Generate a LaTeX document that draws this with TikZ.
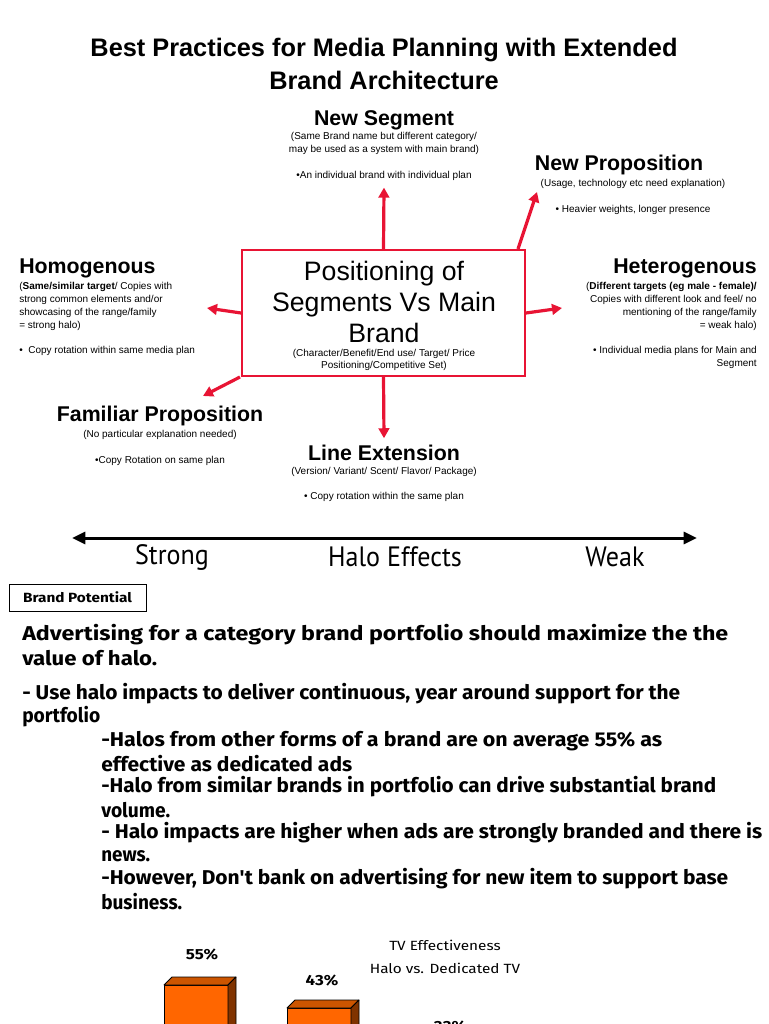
\documentclass[tikz,border=0pt]{standalone}
\usepackage{fontspec}
\setmainfont{Liberation Sans}
\newfontfamily\titlef{Liberation Sans}
\newfontfamily\halof[FakeStretch=0.93]{PT Sans}
\newfontfamily\comicf[FakeStretch=1.15]{Fira Sans}
\usetikzlibrary{arrows.meta,calc}
\definecolor{bred}{RGB}{232,20,52}
\definecolor{barfront}{RGB}{255,102,0}
\definecolor{bartop}{RGB}{204,85,0}
\definecolor{barside}{RGB}{128,51,0}
\newcommand\fitline[2]{\resizebox{#1pt}{\height}{#2}}
\tikzset{
  hd/.style={font=\bfseries\fontsize{16}{18}\selectfont, inner sep=0pt},
  sm/.style={font=\fontsize{7.5}{9.75}\selectfont, inner sep=0pt},
  arr/.style={draw=bred, line width=2.4pt, -{Triangle[length=7.5pt,width=8pt]}},
  para/.style={font=\comicf\bfseries\fontsize{15}{17}\selectfont, inner sep=0pt, anchor=west},
  ttl/.style={font=\titlef\bfseries\fontsize{19}{22}\selectfont, inner sep=0pt},
  halo/.style={font=\halof\fontsize{21}{24}\selectfont, inner sep=0pt},
  chart/.style={font=\comicf\fontsize{10}{12}\selectfont, inner sep=0pt},
  bar/.style={draw=black, line width=0.6pt, line join=round}
}
\begin{document}
\begin{tikzpicture}[x=0.75pt,y=-0.75pt]
\useasboundingbox (0,0) rectangle (768,1024);
% title
\node[ttl] (t1) at (384,50) {Best Practices for Media Planning with Extended};
\node[ttl] (t2) at (384,80) {Brand Architecture};
% central box
\node[draw=bred, line width=1.5pt, minimum width=212.25pt, minimum height=94.5pt, inner sep=0pt] (box) at (383.5,313) {};
\node[font=\fontsize{20}{23.25}\selectfont, align=center, inner sep=0pt] (boxt) at (384,302) {Positioning of\\Segments Vs Main\\Brand};
\node[sm, align=center, font=\fontsize{7.5}{9}\selectfont] (boxs) at (384,360) {(Character/Benefit/End use/ Target/ Price\\Positioning/Competitive Set)};
% New Segment
\node[hd] (ns) at (384,120) {New Segment};
\node[sm, align=center] (nss) at (384,143) {(Same Brand name but different category/\\may be used as a system with main brand)};
\node[sm] (nsb) at (384,176) {•An individual brand with individual plan};
% New Proposition
\node[hd] (np) at (619,165) {New Proposition};
\node[sm] (nps) at (633,184) {(Usage, technology etc need explanation)};
\node[sm] (npb) at (633,210) {• Heavier weights, longer presence};
% Homogenous
\node[hd, anchor=west] (ho) at (19,268) {Homogenous};
\node[sm, anchor=west, align=left] (hos) at (19,306) {(\textbf{Same/similar target}/ Copies with\\strong common elements and/or\\showcasing of the range/family\\= strong halo)};
\node[sm, anchor=west] (hob) at (19,351) {•\ \ Copy rotation within same media plan};
% Heterogenous
\node[hd, anchor=east] (he) at (757,268) {Heterogenous};
\node[sm, anchor=east, align=right] (hes) at (757,306) {(\textbf{Different targets (eg male - female)/}\\Copies with different look and feel/ no\\mentioning of the range/family\ \\= weak halo)};
\node[sm, anchor=east, align=right] (heb) at (757,357.5) {• Individual media plans for Main and\\Segment};
% Familiar Proposition
\node[hd] (fp) at (160,416) {Familiar Proposition};
\node[sm] (fps) at (160,435) {(No particular explanation needed)};
\node[sm] (fpb) at (160,461) {•Copy Rotation on same plan};
% Line Extension
\node[hd] (le) at (384,453) {Line Extension};
\node[sm] (les) at (384,472) {(Version/ Variant/ Scent/ Flavor/ Package)};
\node[sm] (leb) at (384,497) {• Copy rotation within the same plan};
% arrows
\coordinate (npst) at ($(box.north east)+(-8,0)$);
\coordinate (nptip) at (537,192);
\coordinate (hotip) at (207,308);
\coordinate (hetip) at (562,308);
\coordinate (fpst) at (240,377);
\coordinate (fptip) at (203,396);
\draw[arr] (box.north) -- ([yshift=-5pt]nsb.south);
\draw[arr] (npst) -- (nptip);
\draw[arr] (box.west) -- (hotip);
\draw[arr] (box.east) -- (hetip);
\draw[arr] (fpst) -- (fptip);
\draw[arr] (box.south) -- ([yshift=5pt]le.north);
% halo axis
\coordinate (ha) at (72,538);
\coordinate (hb) at (697,538);
\draw[line width=2.25pt, {Triangle[length=10pt,width=9pt]}-{Triangle[length=10pt,width=9pt]}] (ha) -- (hb);
\node[halo] (st) at (172,557) {Strong};
\node[halo] (hef) at (395,557) {Halo Effects};
\node[halo] (wk) at (615,557) {Weak};
% brand potential
\node[draw=black, line width=0.6pt, minimum width=102.75pt, minimum height=20.25pt, inner sep=0pt, font=\comicf\bfseries\fontsize{10}{12}\selectfont] (bp) at (77.5,597.5) {Brand Potential};
% paragraph
\node[para] (p1) at (22,635) {\fitline{529.5}{Advertising for a category brand portfolio should maximize the the}};
\node[para] (p2) at (22,658) {\fitline{101.25}{value of halo.}};
\node[para] (p3) at (22,694) {\fitline{493.5}{- Use halo impacts to deliver continuous, year around support for the}};
\node[para] (p4) at (22,717) {\fitline{58.5}{portfolio}};
\node[para] (p5) at (101,741) {\fitline{420.75}{-Halos from other forms of a brand are on average 55\% as}};
\node[para] (p6) at (101,764) {\fitline{188.25}{effective as dedicated ads}};
\node[para] (p7) at (101,787) {\fitline{461.25}{-Halo from similar brands in portfolio can drive substantial brand}};
\node[para] (p8) at (101,810) {\fitline{51.75}{volume.}};
\node[para] (p9) at (101,833) {\fitline{495.75}{- Halo impacts are higher when ads are strongly branded and there is}};
\node[para] (p10) at (101,856) {\fitline{36.75}{news.}};
\node[para] (p11) at (101,879) {\fitline{470.25}{-However, Don't bank on advertising for new item to support base}};
\node[para] (p12) at (101,902) {\fitline{60.75}{business.}};
% chart
\node[chart] (c1) at (445,945) {TV Effectiveness};
\node[chart] (c2) at (445,968) {Halo vs. Dedicated TV};
\node[chart, font=\comicf\bfseries\fontsize{11}{12}\selectfont] (l1) at (202,955) {55\%};
\node[chart, font=\comicf\bfseries\fontsize{11}{12}\selectfont] (l2) at (322,981) {43\%};
\node[chart, font=\comicf\bfseries\fontsize{11}{12}\selectfont] (l3) at (450,1027) {33\%};
% bar 1
\draw[bar, fill=barfront] (164,985) rectangle (228,1035);
\draw[bar, fill=bartop] (164,985) -- (172,977) -- (236,977) -- (228,985) -- cycle;
\draw[bar, fill=barside] (228,985) -- (236,977) -- (236,1035) -- (228,1035) -- cycle;
% bar 2
\draw[bar, fill=barfront] (287,1008) rectangle (351,1035);
\draw[bar, fill=bartop] (287,1008) -- (295,1000) -- (359,1000) -- (351,1008) -- cycle;
\draw[bar, fill=barside] (351,1008) -- (359,1000) -- (359,1035) -- (351,1035) -- cycle;
\end{tikzpicture}
\end{document}
